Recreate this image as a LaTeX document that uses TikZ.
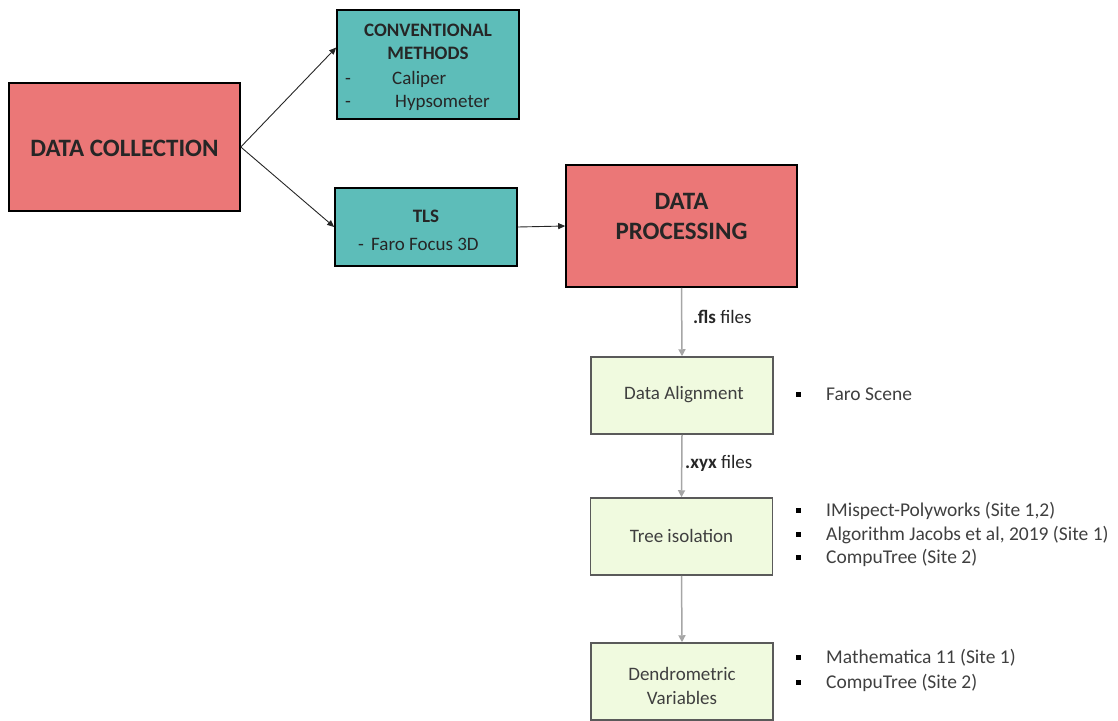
\documentclass[tikz,border=0pt]{standalone}
\usepackage{fontspec}
\setmainfont{Carlito}
\usetikzlibrary{arrows.meta}
\definecolor{cRed}{HTML}{EB7777}
\definecolor{cTeal}{HTML}{5DBDB9}
\definecolor{cGreen}{HTML}{F0FADF}
\definecolor{cGreenLine}{HTML}{5A5A5A}
\definecolor{cGrayArrow}{HTML}{A6A6A6}
\definecolor{cText}{HTML}{262626}
\definecolor{cSoft}{HTML}{3F3F3F}
\begin{document}
\begin{tikzpicture}[x=1pt,y=-1pt,
  bigbox/.style={draw=black, line width=1.6pt, fill=cRed, inner sep=0pt},
  tealbox/.style={draw=black, line width=1.6pt, fill=cTeal, inner sep=0pt},
  greenbox/.style={draw=cGreenLine, line width=1.5pt, fill=cGreen, inner sep=0pt, minimum width=182pt, minimum height=77pt},
  lbl/.style={inner sep=0pt, anchor=base, text=cText, font=\fontsize{19}{22}\selectfont},
  lblw/.style={lbl, anchor=base west},
  glbl/.style={lbl, text=cSoft},
  big/.style={inner sep=0pt, anchor=base, text=black!85, font=\fontsize{25}{30}\selectfont\bfseries},
  listtxt/.style={inner sep=0pt, anchor=base west, text=cSoft, font=\fontsize{19.5}{22}\selectfont},
  sqbullet/.style={fill=black, inner sep=0pt, minimum size=5pt, draw=none},
  blackarrow/.style={draw=black!85, line width=0.9pt, -{Triangle[length=7pt,width=6pt]}},
  grayarrow/.style={draw=cGrayArrow, line width=1.5pt, -{Triangle[length=7pt,width=7pt]}},
  flabel/.style={inner sep=0pt, anchor=base west, text=cText, font=\fontsize{19}{22}\selectfont}
]
\useasboundingbox (0,0) rectangle (1118,720);

% boxes
\node[bigbox, minimum width=231pt, minimum height=128pt] (dc) at (124.5,147) {};
\node[tealbox, minimum width=182pt, minimum height=109pt] (conv) at (428,64.5) {};
\node[tealbox, minimum width=182pt, minimum height=78pt] (tls) at (426,227) {};
\node[bigbox, minimum width=231pt, minimum height=122pt] (dp) at (681.5,226) {};
\node[greenbox] (da) at (682,395.5) {};
\node[greenbox] (ti) at (681.5,536.5) {};
\node[greenbox] (dv) at (682,681.5) {};

% box texts
\node[big] (dct) at (124.5,156) {DATA COLLECTION};
\node[big] (dpt1) at (681.5,209) {DATA};
\node[big] (dpt2) at (681.5,239) {PROCESSING};

\node[lbl, font=\fontsize{19}{22}\selectfont\bfseries] (cvt1) at (428,36) {CONVENTIONAL};
\node[lbl, font=\fontsize{19}{22}\selectfont\bfseries] (cvt2) at (428,59) {METHODS};
\node[lblw] (cvd1) at (345,84) {-};
\node[lblw] (cvi1) at (392,84) {Caliper};
\node[lblw] (cvd2) at (345,107) {-};
\node[lblw] (cvi2) at (395,107) {Hypsometer};

\node[lbl, font=\fontsize{19}{22}\selectfont\bfseries] (tlst) at (426,222) {TLS};
\node[lblw] (tlsd) at (358,250) {-};
\node[lblw] (tlsi) at (371,250) {Faro Focus 3D};

\node[glbl] (dat) at (684,399) {Data Alignment};
\node[glbl] (tit) at (681.5,542) {Tree isolation};
\node[glbl] (dvt1) at (682,680) {Dendrometric};
\node[glbl] (dvt2) at (682,704) {Variables};

% connectors
\draw[blackarrow] (dc.east) -- ([yshift=17pt]conv.west);
\draw[blackarrow] (dc.east) -- (tls.west);
\draw[blackarrow] (tls.east) -- (dp.west);
\draw[grayarrow] (dp.south) -- (da.north);
\draw[grayarrow] (da.south) -- (ti.north);
\draw[grayarrow] (ti.south) -- (dv.north);

% edge labels
\node[flabel] (fls) at (693,323) {\textbf{.fls} files};
\node[flabel] (xyx) at (685,468) {\textbf{.xyx} files};

% bullet lists
\node[sqbullet] (b1) at (798,394) {};
\node[listtxt] (l1) at (826,400) {Faro Scene};

\node[sqbullet] (b2) at (798,510) {};
\node[listtxt] (l2) at (826,516) {IMispect-Polyworks (Site 1,2)};
\node[sqbullet] (b3) at (798,534) {};
\node[listtxt] (l3) at (826,540) {Algorithm Jacobs et al, 2019 (Site 1)};
\node[sqbullet] (b4) at (798,557) {};
\node[listtxt] (l4) at (826,563) {CompuTree (Site 2)};

\node[sqbullet] (b5) at (798,657) {};
\node[listtxt] (l5) at (826,663) {Mathematica 11 (Site 1)};
\node[sqbullet] (b6) at (798,682) {};
\node[listtxt] (l6) at (826,688) {CompuTree (Site 2)};
\end{tikzpicture}
\end{document}
